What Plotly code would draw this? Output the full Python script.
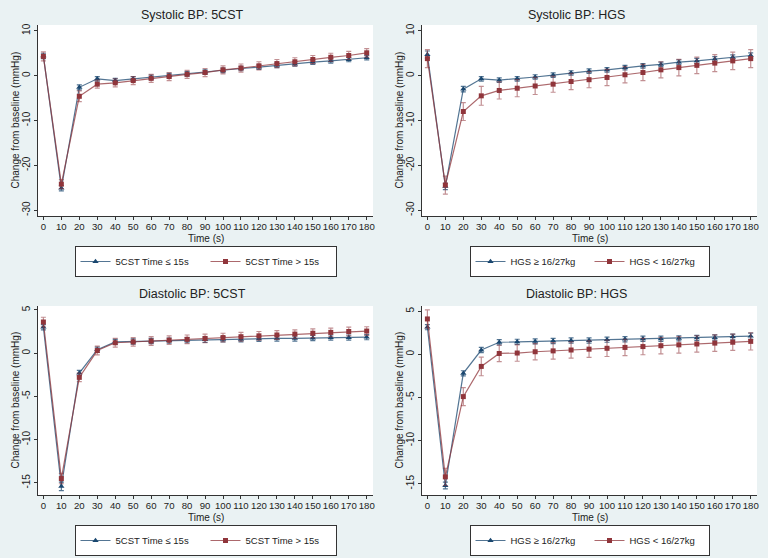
import plotly.graph_objects as go

time_s = [0, 10, 20, 30, 40, 50, 60, 70, 80, 90, 100, 110, 120, 130, 140, 150, 160, 170, 180]

# Systolic BP by 5CST
sbp_5cst_fast = [4.4, -25.1, -2.6, -0.7, -1.1, -0.7, -0.4, 0.0, 0.4, 0.8, 1.2, 1.6, 1.9, 2.3, 2.6, 3.0, 3.3, 3.6, 4.0]
sbp_5cst_fast_err = [0.6, 0.6, 0.55, 0.5, 0.5, 0.5, 0.5, 0.5, 0.5, 0.5, 0.5, 0.5, 0.5, 0.5, 0.5, 0.5, 0.5, 0.5, 0.5]
sbp_5cst_slow = [4.3, -24.2, -4.6, -1.9, -1.6, -1.1, -0.6, -0.2, 0.3, 0.7, 1.3, 1.7, 2.2, 2.7, 3.1, 3.6, 4.1, 4.5, 5.1]
sbp_5cst_slow_err = [1.0, 1.0, 1.2, 0.9, 0.9, 0.9, 0.9, 0.9, 0.9, 0.9, 0.9, 0.9, 0.9, 0.9, 0.9, 0.9, 0.9, 0.9, 0.95]

# Systolic BP by HGS
sbp_hgs_high = [4.7, -24.7, -3.0, -0.7, -1.0, -0.7, -0.3, 0.1, 0.6, 1.0, 1.3, 1.8, 2.2, 2.5, 3.0, 3.3, 3.7, 4.1, 4.5]
sbp_hgs_high_err = [0.8, 0.7, 0.6, 0.5, 0.5, 0.5, 0.5, 0.5, 0.5, 0.5, 0.5, 0.5, 0.5, 0.5, 0.5, 0.55, 0.55, 0.55, 0.6]
sbp_hgs_low = [3.8, -24.4, -8.0, -4.5, -3.3, -2.8, -2.3, -1.9, -1.3, -0.9, -0.4, 0.2, 0.7, 1.3, 1.8, 2.3, 2.8, 3.3, 3.8]
sbp_hgs_low_err = [2.0, 2.0, 2.0, 2.1, 1.9, 1.9, 1.9, 1.8, 1.8, 1.8, 1.8, 1.8, 1.8, 1.8, 1.85, 1.85, 1.9, 1.95, 2.0]

# Diastolic BP by 5CST
dbp_5cst_fast = [3.0, -15.4, -2.3, 0.4, 1.3, 1.35, 1.4, 1.45, 1.5, 1.55, 1.6, 1.6, 1.65, 1.7, 1.7, 1.75, 1.8, 1.8, 1.85]
dbp_5cst_fast_err = [0.3, 0.5, 0.3, 0.3, 0.3, 0.3, 0.3, 0.3, 0.3, 0.3, 0.3, 0.3, 0.3, 0.3, 0.3, 0.3, 0.3, 0.3, 0.3]
dbp_5cst_slow = [3.6, -14.5, -2.8, 0.3, 1.2, 1.3, 1.4, 1.5, 1.6, 1.7, 1.8, 1.9, 2.0, 2.1, 2.2, 2.3, 2.4, 2.5, 2.55]
dbp_5cst_slow_err = [0.55, 0.6, 0.5, 0.5, 0.5, 0.5, 0.5, 0.5, 0.5, 0.5, 0.5, 0.5, 0.5, 0.5, 0.5, 0.5, 0.5, 0.5, 0.5]

# Diastolic BP by HGS
dbp_hgs_high = [3.15, -15.2, -2.2, 0.5, 1.4, 1.45, 1.5, 1.55, 1.6, 1.6, 1.7, 1.75, 1.8, 1.8, 1.85, 1.9, 1.95, 2.05, 2.1]
dbp_hgs_high_err = [0.3, 0.4, 0.3, 0.3, 0.3, 0.3, 0.3, 0.3, 0.3, 0.3, 0.3, 0.3, 0.3, 0.3, 0.3, 0.3, 0.3, 0.3, 0.35]
dbp_hgs_low = [4.1, -14.2, -4.9, -1.4, 0.1, 0.15, 0.3, 0.4, 0.5, 0.6, 0.7, 0.8, 0.9, 1.0, 1.1, 1.2, 1.3, 1.4, 1.5]
dbp_hgs_low_err = [1.05, 1.0, 1.05, 1.08, 0.95, 0.95, 0.95, 0.95, 0.95, 0.95, 0.95, 0.95, 0.95, 0.95, 0.95, 0.95, 0.95, 0.95, 1.0]

titles = ["Systolic BP: 5CST", "Systolic BP: HGS", "Diastolic BP: 5CST", "Diastolic BP: HGS"]
label_5cst = ["5CST Time \u2264 15s", "5CST Time > 15s"]
label_hgs = ["HGS \u2265 16/27kg", "HGS < 16/27kg"]
y_ticks_sbp = [10, 0, -10, -20, -30]
y_ticks_dbp = [5, 0, -5, -10, -15]
x_ticks = time_s

W, H = 768, 558
NAVY = "#1a476f"
MAROON = "#90353b"
BG = "#eaf2f3"
TXT = "#222222"
FONT = "Liberation Sans, Arial, sans-serif"

panels = [
    dict(a=sbp_5cst_fast, ae=sbp_5cst_fast_err, b=sbp_5cst_slow, be=sbp_5cst_slow_err,
         labels=label_5cst, yticks=y_ticks_sbp, yr=[-31.3, 11.3], col=0, row=0, ew=85),
    dict(a=sbp_hgs_high, ae=sbp_hgs_high_err, b=sbp_hgs_low, be=sbp_hgs_low_err,
         labels=label_hgs, yticks=y_ticks_sbp, yr=[-31.3, 11.3], col=1, row=0, ew=74),
    dict(a=dbp_5cst_fast, ae=dbp_5cst_fast_err, b=dbp_5cst_slow, be=dbp_5cst_slow_err,
         labels=label_5cst, yticks=y_ticks_dbp, yr=[-16.4, 5.45], col=0, row=1, ew=85),
    dict(a=dbp_hgs_high, ae=dbp_hgs_high_err, b=dbp_hgs_low, be=dbp_hgs_low_err,
         labels=label_hgs, yticks=y_ticks_dbp, yr=[-16.3, 5.6], col=1, row=1, ew=74),
]

fig = go.Figure()
layout = dict(
    width=W, height=H,
    margin=dict(l=0, r=0, t=0, b=0, autoexpand=False),
    paper_bgcolor=BG,
    plot_bgcolor="white",
    font=dict(family=FONT, color=TXT, size=10),
    showlegend=True,
    annotations=[],
)

for i, p in enumerate(panels):
    k = i + 1
    xs = "" if k == 1 else str(k)
    ox = 384 * p["col"]
    oy = 279 * p["row"]
    left, right = ox + 38, ox + 373
    top = oy + (25 if p["row"] == 0 else 27)
    bottom = oy + 216
    xdom = [left / W, right / W]
    ydom = [1 - bottom / H, 1 - top / H]
    legname = "legend" if k == 1 else f"legend{k}"

    fig.add_trace(go.Scatter(
        x=time_s, y=p["a"], name=p["labels"][0], mode="lines+markers",
        xaxis="x" + xs, yaxis="y" + xs, legend=legname,
        line=dict(color="rgba(26,71,111,0.75)", width=1.2),
        marker=dict(symbol="triangle-up", size=5.5, color=NAVY),
        error_y=dict(type="data", array=p["ae"], visible=True,
                     color="rgba(26,71,111,0.75)", thickness=1.2, width=2.5),
    ))
    fig.add_trace(go.Scatter(
        x=time_s, y=p["b"], name=p["labels"][1], mode="lines+markers",
        xaxis="x" + xs, yaxis="y" + xs, legend=legname,
        line=dict(color="rgba(144,53,59,0.75)", width=1.2),
        marker=dict(symbol="square", size=5, color=MAROON),
        error_y=dict(type="data", array=p["be"], visible=True,
                     color="rgba(144,53,59,0.55)", thickness=1.2, width=2.5),
    ))

    layout["xaxis" + xs] = dict(
        domain=xdom, anchor="y" + xs, range=[-3, 183.5],
        tickmode="array", tickvals=x_ticks, ticktext=[str(t) for t in x_ticks],
        ticks="outside", ticklen=3, tickcolor="#333", tickwidth=1,
        showline=True, linecolor="#333", linewidth=1,
        showgrid=False, zeroline=False, tickangle=0, automargin=False,
        ticklabelstandoff=-2,
        tickfont=dict(size=9.6, color=TXT, family=FONT),
    )
    layout["yaxis" + xs] = dict(
        domain=ydom, anchor="x" + xs, range=p["yr"],
        tickmode="array", tickvals=p["yticks"], ticktext=[str(t) for t in p["yticks"]],
        ticks="outside", ticklen=3, tickcolor="#333", tickwidth=1,
        showline=True, linecolor="#333", linewidth=1,
        showgrid=False, zeroline=False, tickangle=-90, automargin=False,
        tickfont=dict(size=10, color=TXT, family=FONT),
    )
    # panel title
    layout["annotations"].append(dict(
        text=titles[i], x=(ox + 192) / W, y=1 - (oy + 15) / H,
        xref="paper", yref="paper", showarrow=False,
        xanchor="center", yanchor="middle",
        font=dict(size=12.5, color=TXT, family=FONT),
    ))
    # x axis title
    layout["annotations"].append(dict(
        text="Time (s)", x=(left + right) / 2 / W, y=1 - (oy + 238.5) / H,
        xref="paper", yref="paper", showarrow=False,
        xanchor="center", yanchor="middle",
        font=dict(size=10, color=TXT, family=FONT),
    ))
    # y axis title
    layout["annotations"].append(dict(
        text="Change from baseline (mmHg)", x=(ox + 15) / W, y=1 - ((top + bottom) / 2) / H,
        xref="paper", yref="paper", showarrow=False, textangle=-90,
        xanchor="center", yanchor="middle",
        font=dict(size=10, color=TXT, family=FONT),
    ))
    layout[legname] = dict(
        orientation="h", x=(left + right) / 2 / W, xanchor="center",
        y=1 - (oy + 246) / H, yanchor="top",
        bgcolor="white", bordercolor="#333", borderwidth=1,
        font=dict(size=9.5, color=TXT, family=FONT),
        itemwidth=30, tracegroupgap=0,
        entrywidth=p["ew"], entrywidthmode="pixels",
    )

fig.update_layout(**layout)
fig.write_html(
    "out.html",
    config={"displayModeBar": False},
    post_script="document.body.style.margin='0';document.body.style.padding='0';",
)
